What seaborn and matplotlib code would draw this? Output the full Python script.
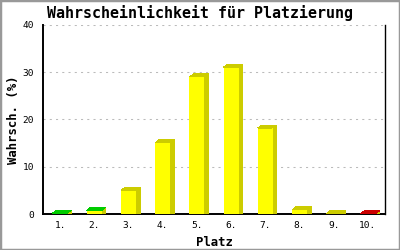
import matplotlib
matplotlib.use("Agg")
import matplotlib.pyplot as plt
import seaborn as sns
import pandas as pd
from matplotlib.patches import Polygon, Rectangle

# ---- data ----
places = ["1.", "2.", "3.", "4.", "5.", "6.", "7.", "8.", "9.", "10."]
probability = [0.2, 0.8, 5.0, 15.1, 29.0, 31.1, 18.2, 0.9, 0.05, 0.05]
top_colors = ["#00cc00", "#00cc00", "#cccc00", "#cccc00", "#cccc00",
              "#cccc00", "#cccc00", "#cccc00", "#cccc00", "#cc0000"]
y_ticks = [0, 10, 20, 30, 40]

title = "Wahrscheinlichkeit für Platzierung"
xlabel = "Platz"
ylabel = "Wahrsch. (%)"

sns.set_style("white")
plt.rcParams["font.family"] = ["DejaVu Sans Mono", "DejaVu Sans"]
plt.rcParams["text.color"] = "black"
plt.rcParams["axes.labelcolor"] = "black"
plt.rcParams["xtick.color"] = "black"
plt.rcParams["ytick.color"] = "black"

W, H = 400, 250
fig = plt.figure(figsize=(W / 100, H / 100), dpi=100)
left_px, right_px, top_px, bot_px = 43, 385, 25, 214
ax = fig.add_axes([left_px / W, 1 - bot_px / H,
                   (right_px - left_px) / W, (bot_px - top_px) / H])

df = pd.DataFrame({"Platz": places, "Wahrsch": probability})
sns.barplot(data=df, x="Platz", y="Wahrsch", order=places, color="#ffff00",
            saturation=1, width=0.44, ax=ax, zorder=3, linewidth=0)

ax.set_xlim(-0.5, len(places) - 0.5)
ax.set_ylim(0, 40)

# 3D effect offsets converted from pixels to data units
px_per_x = (right_px - left_px) / len(places)
px_per_y = (bot_px - top_px) / 40.0
dx = 4 / px_per_x
dy = 3 / px_per_y

for patch, tc in zip(ax.patches, top_colors):
    patch.set_antialiased(False)
    x0 = patch.get_x()
    x1 = x0 + patch.get_width()
    h = patch.get_height()
    side = Polygon([(x1, 0), (x1 + dx, 0), (x1 + dx, h + dy), (x1, h)],
                   closed=True, facecolor="#cccc00", edgecolor="none",
                   antialiased=False, zorder=2.9, clip_on=True)
    top = Polygon([(x0, h), (x1, h), (x1 + dx, h + dy), (x0 + dx, h + dy)],
                  closed=True, facecolor=tc, edgecolor="none",
                  antialiased=False, zorder=3.1, clip_on=True)
    ax.add_patch(side)
    ax.add_patch(top)

# grid
for yv in y_ticks[1:]:
    ax.axhline(yv, color="#bbbbbb", lw=0.75, linestyle=(0, (2, 4)), zorder=1)

ax.set_yticks(y_ticks)
ax.set_yticklabels([str(v) for v in y_ticks])
ax.tick_params(axis="y", direction="inout", length=7, width=1.2,
               color="black", labelcolor="black", labelsize=6.8, pad=3)
ax.tick_params(axis="x", length=0, labelsize=6.8, pad=5, labelcolor="black")

for s in ["left", "bottom", "right"]:
    ax.spines[s].set_visible(True)
    ax.spines[s].set_color("black")
    ax.spines[s].set_linewidth(1.4)
ax.spines["right"].set_linewidth(1.0)
ax.spines["top"].set_visible(False)

ax.set_xlabel(xlabel, fontsize=8.8, fontweight="bold", labelpad=4, color="black")
ax.set_ylabel(ylabel, fontsize=8.8, fontweight="bold", labelpad=2, color="black")

fig.text(0.5, 1 - 13 / H, title, ha="center", va="center",
         fontsize=10.8, fontweight="bold", color="black")

# gray figure border
fig.patches.append(Rectangle((0, 0), 1, 1, transform=fig.transFigure,
                             fill=False, edgecolor="#999999", linewidth=2.5,
                             zorder=10))

fig.savefig("out.png", dpi=100)
